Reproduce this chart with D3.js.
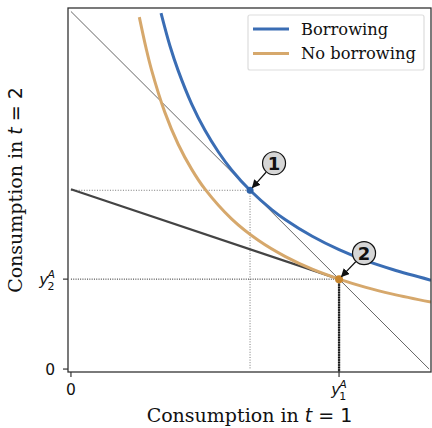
<!DOCTYPE html>
<html lang="en">
<head>
<meta charset="UTF-8">
<title>Borrowing vs no borrowing</title>
<script src="https://d3js.org/d3.v7.min.js"></script>
<style>
    body { margin: 0; background: #fff; }
    svg text { fill: #111; }
    .tick-lab { font-family: "DejaVu Sans", sans-serif; font-size: 15.5px; }
    .ax-lab { font-family: "DejaVu Serif", serif; font-size: 19px; }
    .leg-lab { font-family: "DejaVu Serif", serif; font-size: 16.3px; }
</style>
</head>
<body>
<svg id="chart" width="432" height="428"></svg>
<script>
    // endowment A (y1, y2) and optimum with borrowing
    const endowment = [10, 3.36];
    const optimum = [6.68, 6.68];
    // budget line with borrowing (x1 + x2 = const)
    const budgetLine = [[0, 13.36], [13.36, 0]];
    // no-borrowing budget segment (tangent at endowment)
    const noBorrowLine = [[0, 6.72], [10, 3.36]];

    // indifference curves
    const borrowX = [3.36, 3.7, 4, 4.5, 5, 5.5, 6, 6.68, 7.5, 8, 9, 10, 11, 12, 13.43];
    const borrowY = [13.3, 12.05, 11.15, 9.91, 8.92, 8.11, 7.43, 6.68, 5.95, 5.58, 4.96, 4.46, 4.05, 3.72, 3.32];
    const noBorrowX = [2.55, 2.8, 3, 3.5, 4, 4.5, 5, 6, 7, 8, 9, 10, 11, 12, 13.43];
    const noBorrowY = [13.15, 12.0, 11.2, 9.6, 8.4, 7.47, 6.72, 5.6, 4.8, 4.2, 3.73, 3.36, 3.05, 2.8, 2.5];

    const seriesNames = ["Borrowing", "No borrowing"];
    const seriesColors = ["#3a6db4", "#d6a86c"];
    const xTickVals = [0, endowment[0]];
    const yTickVals = [0, endowment[1]];

    const svg = d3.select("#chart");
    const m = { left: 68, right: 431, top: 8, bottom: 372 };

    const x = d3.scaleLinear().domain([-0.11, 13.43]).range([m.left, m.right]);
    const y = d3.scaleLinear().domain([-0.11, 13.49]).range([m.bottom, m.top]);

    svg.append("defs").append("clipPath").attr("id", "clip")
        .append("rect").attr("x", m.left).attr("y", m.top)
        .attr("width", m.right - m.left).attr("height", m.bottom - m.top);

    const plot = svg.append("g").attr("clip-path", "url(#clip)");
    const line = d3.line().x(d => x(d[0])).y(d => y(d[1]));
    const smooth = d3.line().x(d => x(d[0])).y(d => y(d[1])).curve(d3.curveCatmullRom);

    // thin budget line
    plot.append("path").attr("d", line(budgetLine))
        .attr("fill", "none").attr("stroke", "#222").attr("stroke-width", 0.7);

    // guide lines
    plot.append("path").attr("d", line([[0, optimum[1]], optimum, [optimum[0], 0]]))
        .attr("fill", "none").attr("stroke", "#777").attr("stroke-width", 1)
        .attr("stroke-dasharray", "1,1.6");
    plot.append("path").attr("d", line([[0, endowment[1]], endowment]))
        .attr("fill", "none").attr("stroke", "#222").attr("stroke-width", 1)
        .attr("stroke-dasharray", "1,1.3");
    plot.append("path").attr("d", line([endowment, [endowment[0], -0.11]]))
        .attr("fill", "none").attr("stroke", "#888").attr("stroke-width", 2.2);
    plot.append("path").attr("d", line([endowment, [endowment[0], -0.11]]))
        .attr("fill", "none").attr("stroke", "#111").attr("stroke-width", 2.2)
        .attr("stroke-dasharray", "1.6,0.9");

    // no borrowing budget segment
    plot.append("path").attr("d", line(noBorrowLine))
        .attr("fill", "none").attr("stroke", "#444").attr("stroke-width", 2.2);

    // indifference curves
    const curves = [d3.zip(borrowX, borrowY), d3.zip(noBorrowX, noBorrowY)];
    curves.forEach((c, i) => {
        plot.append("path").attr("d", smooth(c))
            .attr("fill", "none").attr("stroke", seriesColors[i])
            .attr("stroke-width", 3);
    });

    // points
    plot.append("circle").attr("cx", x(optimum[0])).attr("cy", y(optimum[1]))
        .attr("r", 3.5).attr("fill", "#2e62a8");
    plot.append("circle").attr("cx", x(endowment[0])).attr("cy", y(endowment[1]))
        .attr("r", 4).attr("fill", "#c8862e");

    // annotations
    svg.append("defs").append("marker").attr("id", "arr")
        .attr("viewBox", "0 0 10 10").attr("refX", 9).attr("refY", 5)
        .attr("markerWidth", 7).attr("markerHeight", 7).attr("orient", "auto")
        .append("path").attr("d", "M0,0 L10,5 L0,10 z").attr("fill", "#111");

    const notes = [
        { label: "1", pt: optimum, dx: 24, dy: -27 },
        { label: "2", pt: endowment, dx: 25, dy: -26 }
    ];
    notes.forEach(n => {
        const px = x(n.pt[0]), py = y(n.pt[1]);
        const cx = px + n.dx, cy = py + n.dy;
        const ang = Math.atan2(py - cy, px - cx);
        svg.append("line")
            .attr("x1", cx + Math.cos(ang) * 12).attr("y1", cy + Math.sin(ang) * 12)
            .attr("x2", px + Math.cos(ang + Math.PI) * 3.5).attr("y2", py + Math.sin(ang + Math.PI) * 3.5)
            .attr("stroke", "#111").attr("stroke-width", 1.2).attr("marker-end", "url(#arr)");
        svg.append("circle").attr("cx", cx).attr("cy", cy).attr("r", 11.5)
            .attr("fill", "#d6d6d6").attr("stroke", "#111").attr("stroke-width", 1.2);
        svg.append("text").attr("x", cx).attr("y", cy + 6.5)
            .attr("text-anchor", "middle")
            .style("font-family", "DejaVu Sans, sans-serif").style("font-weight", "bold")
            .style("font-size", "18px").text(n.label);
    });

    // frame
    svg.append("rect").attr("x", m.left).attr("y", m.top)
        .attr("width", m.right - m.left).attr("height", m.bottom - m.top)
        .attr("fill", "none").attr("stroke", "#333").attr("stroke-width", 1.3);

    // ticks
    const xt = svg.append("g");
    xTickVals.forEach((v, i) => {
        xt.append("line").attr("x1", x(v)).attr("x2", x(v))
            .attr("y1", m.bottom).attr("y2", m.bottom + 5)
            .attr("stroke", "#333").attr("stroke-width", 1.2);
        const t = xt.append("text").attr("class", "tick-lab")
            .attr("x", x(v)).attr("y", m.bottom + 23).attr("text-anchor", "middle");
        if (i === 0) t.text("0");
        else {
            t.append("tspan").style("font-style", "italic").text("y");
            t.append("tspan").attr("font-size", "11px").attr("dy", 5).attr("dx", -1).text("1");
            t.append("tspan").attr("font-size", "11px").style("font-style", "italic")
                .attr("dy", -12).attr("dx", -7).text("A");
        }
    });
    const yt = svg.append("g");
    yTickVals.forEach((v, i) => {
        yt.append("line").attr("y1", y(v)).attr("y2", y(v))
            .attr("x1", m.left).attr("x2", m.left - 5)
            .attr("stroke", "#333").attr("stroke-width", 1.2);
        const t = yt.append("text").attr("class", "tick-lab")
            .attr("x", m.left - 13).attr("y", y(v) + 5.5).attr("text-anchor", "end");
        if (i === 0) t.text("0");
        else {
            t.append("tspan").style("font-style", "italic").text("y");
            t.append("tspan").attr("font-size", "11px").attr("dy", 5).attr("dx", -1).text("2");
            t.append("tspan").attr("font-size", "11px").style("font-style", "italic")
                .attr("dy", -12).attr("dx", -7).text("A");
        }
    });

    // axis labels
    const xl = svg.append("text").attr("class", "ax-lab")
        .attr("x", (m.left + m.right) / 2).attr("y", 422).attr("text-anchor", "middle");
    xl.append("tspan").text("Consumption in ");
    xl.append("tspan").style("font-style", "italic").style("font-family", "DejaVu Sans, sans-serif").text("t");
    xl.append("tspan").style("font-family", "DejaVu Sans, sans-serif").text(" = 1");

    const yl = svg.append("text").attr("class", "ax-lab")
        .attr("transform", `translate(22,${(m.top + m.bottom) / 2}) rotate(-90)`)
        .attr("text-anchor", "middle");
    yl.append("tspan").text("Consumption in ");
    yl.append("tspan").style("font-style", "italic").style("font-family", "DejaVu Sans, sans-serif").text("t");
    yl.append("tspan").style("font-family", "DejaVu Sans, sans-serif").text(" = 2");

    // legend
    const lg = svg.append("g");
    lg.append("rect").attr("x", 248).attr("y", 15).attr("width", 176).attr("height", 55)
        .attr("rx", 2).attr("fill", "#fff").attr("fill-opacity", 0.85)
        .attr("stroke", "#ddd").attr("stroke-width", 1.2);
    seriesNames.forEach((s, i) => {
        const yy = 29 + i * 24.5;
        lg.append("line").attr("x1", 253).attr("x2", 289).attr("y1", yy).attr("y2", yy)
            .attr("stroke", seriesColors[i]).attr("stroke-width", 3);
        lg.append("text").attr("class", "leg-lab").attr("x", 301).attr("y", yy + 5.5).text(s);
    });
</script>
</body>
</html>
